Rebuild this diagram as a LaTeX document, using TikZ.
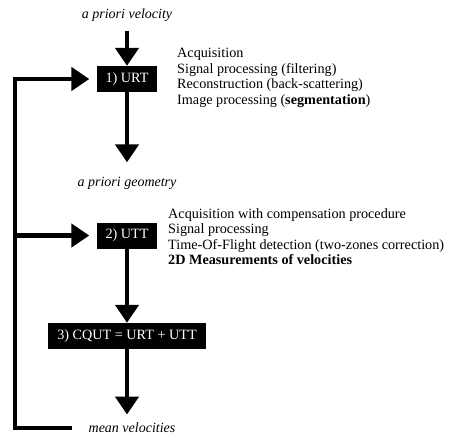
\documentclass[tikz,border=0pt]{standalone}
\usepackage{fontspec}
\setmainfont{Liberation Serif}
\usetikzlibrary{arrows.meta}

\begin{document}
\begin{tikzpicture}[
    x=1pt, y=-1pt,
    every node/.style={font=\fontsize{14.2}{15.5}\selectfont},
    box/.style={fill=black, text=white, minimum height=26pt, inner xsep=9pt},
    io/.style={font=\fontsize{14}{15.5}\selectfont\itshape},
    steps/.style={anchor=north west, align=left, inner sep=0pt},
    flow/.style={line width=4.5pt, -{Triangle[width=23pt,length=18pt]}}
]
\useasboundingbox (0,0) rectangle (449,437);

\node[io] (vel) at (127,15) {a priori velocity};
\node[box] (urt) at (127,79) {1) URT};
\node[io] (geo) at (127,183) {a priori geometry};
\node[box] (utt) at (127,235.5) {2) UTT};
\node[box] (cqut) at (127,336) {3) CQUT = URT + UTT};
\node[io] (mean) at (132,428) {mean velocities};
\coordinate (loop) at (15,428);

\node[steps] (urtsteps) at (177,48.3) {Acquisition\\
    Signal processing (filtering)\\
    Reconstruction (back-scattering)\\
    Image processing (\textbf{segmentation})};
\node[steps] (uttsteps) at (168,208.3) {Acquisition with compensation procedure\\
    Signal processing\\
    Time-Of-Flight detection (two-zones correction)\\
    \textbf{2D Measurements of velocities}};

\draw[flow, shorten <=6pt] (vel) -- (urt);
\draw[flow, shorten >=11pt] (urt) -- (geo);
\draw[flow] (utt) -- (cqut);
\draw[flow, shorten >=5pt] (cqut) -- (cqut |- mean.north);
\draw[flow, shorten >=7pt] ([xshift=-13pt]mean.west) -- (loop) |- (urt.west);
\draw[flow, shorten >=7pt] (loop |- utt) -- (utt.west);

\end{tikzpicture}
\end{document}
